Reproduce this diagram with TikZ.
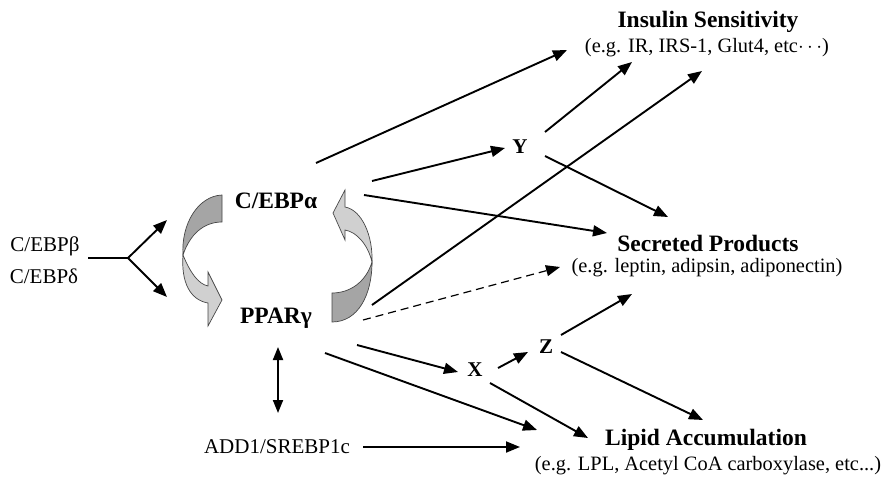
\documentclass[tikz,border=0pt]{standalone}
\usepackage{fontspec}
\setmainfont{Liberation Serif}
\usetikzlibrary{arrows.meta}
\definecolor{darkg}{RGB}{165,165,165}
\definecolor{lightg}{RGB}{208,208,208}
\definecolor{edgeg}{RGB}{70,70,70}
\begin{document}
\begin{tikzpicture}[x=1pt,y=-1pt,
  conn/.style={line width=1.9pt,-{Triangle[length=14pt,width=11pt]}},
  plainline/.style={line width=2.4pt},
  dashconn/.style={line width=1.2pt,dash pattern=on 8pt off 5pt,-{Triangle[length=14pt,width=11pt]}},
  dbl/.style={line width=1.9pt,{Triangle[length=13pt,width=10pt]}-{Triangle[length=13pt,width=10pt]}},
  head/.style={font=\fontsize{23.5}{26}\selectfont\bfseries,inner sep=0pt},
  sub/.style={font=\fontsize{20.4}{24}\selectfont,inner sep=0pt},
  side/.style={font=\fontsize{21}{24}\selectfont,inner sep=0pt},
  letter/.style={font=\fontsize{21}{22}\selectfont\bfseries,inner sep=0pt},
  ribbon/.style={draw=edgeg,line width=0.7pt}
]
\useasboundingbox (0,0) rectangle (886,477);

% text nodes
\node[head] (ins) at (708,22) {Insulin Sensitivity};
\node[sub] (inssub) at (707,48) {(e.g. IR, IRS-1, Glut4, etc$\cdots$)};
\node[head] (sec) at (708,243) {Secreted Products};
\node[sub] (secsub) at (707,268) {(e.g. leptin, adipsin, adiponectin)};
\node[head] (lip) at (706,440) {Lipid Accumulation};
\node[sub] (lipsub) at (708,466) {(e.g. LPL, Acetyl CoA carboxylase, etc...)};
\node[head] (cebpa) at (276,201) {C/EBPα};
\node[head] (ppar) at (276,318) {PPARγ};
\node[side] (cebpb) at (45,246) {C/EBPβ};
\node[side] (cebpd) at (44,276) {C/EBPδ};
\node[letter] (Y) at (520,147) {Y};
\node[letter] (X) at (475,370) {X};
\node[letter] (Z) at (546,347) {Z};
\node[side] (add) at (277,447) {ADD1/SREBP1c};

% connector end points
\coordinate (fs) at (88,258);
\coordinate (fj) at (128,258);
\coordinate (fu) at (167,220);
\coordinate (fd) at (167,297);
\coordinate (a1) at (316,163);
\coordinate (a2) at (372,181);
\coordinate (a3) at (364,195);
\coordinate (insA) at (567,50);
\coordinate (insB) at (632,62);
\coordinate (insC) at (702,71);
\coordinate (y1) at (545,132);
\coordinate (y2) at (545,156);
\coordinate (yt) at (505,148);
\coordinate (secA) at (607,233);
\coordinate (secB) at (668,217);
\coordinate (secC) at (560,267);
\coordinate (secD) at (632,294);
\coordinate (p1) at (372,305);
\coordinate (p2) at (363,320);
\coordinate (p3) at (357,345);
\coordinate (p4) at (325,353);
\coordinate (xt) at (458,372);
\coordinate (x1) at (498,368);
\coordinate (x2) at (490,383);
\coordinate (zt) at (528,352);
\coordinate (z1) at (561,335);
\coordinate (z2) at (561,352);
\coordinate (lipA) at (588,438);
\coordinate (lipB) at (703,420);
\coordinate (lipC) at (537,430);
\coordinate (lipD) at (520,447);
\coordinate (ad1) at (363,447);
\coordinate (v1) at (278,347);
\coordinate (v2) at (278,413);

% fork
\draw[plainline] (fs) -- (fj);
\draw[conn] (fj) -- (fu);
\draw[conn] (fj) -- (fd);

% cycle ribbons
\filldraw[ribbon,fill=darkg] (222,195) -- (222,222) .. controls (204,222) and (190,234) .. (183,255) .. controls (181,224) and (198,196) .. (222,195) -- cycle;
\filldraw[ribbon,fill=lightg] (183,255) .. controls (190,272) and (198,284) .. (208,286) -- (208,272) -- (222,300) -- (208,326) -- (208,303) .. controls (190,300) and (181,282) .. (183,255) -- cycle;
\filldraw[ribbon,fill=darkg] (332,293) -- (332,322) .. controls (358,322) and (372,295) .. (372,262) .. controls (366,282) and (350,293) .. (332,293) -- cycle;
\filldraw[ribbon,fill=lightg] (372,262) .. controls (373,236) and (362,210) .. (345,207) -- (345,190) -- (333,213) -- (345,240) -- (345,230) .. controls (357,232) and (368,245) .. (372,262) -- cycle;

% connectors
\draw[conn] (a1) -- (insA);
\draw[conn] (a2) -- (yt);
\draw[conn] (a3) -- (secA);
\draw[conn] (y1) -- (insB);
\draw[conn] (y2) -- (secB);
\draw[conn] (p1) -- (insC);
\draw[dashconn] (p2) -- (secC);
\draw[conn] (p3) -- (xt);
\draw[conn] (p4) -- (lipC);
\draw[conn] (x1) -- (zt);
\draw[conn] (x2) -- (lipA);
\draw[conn] (z1) -- (secD);
\draw[conn] (z2) -- (lipB);
\draw[conn] (ad1) -- (lipD);
\draw[dbl] (v1) -- (v2);
\end{tikzpicture}
\end{document}
